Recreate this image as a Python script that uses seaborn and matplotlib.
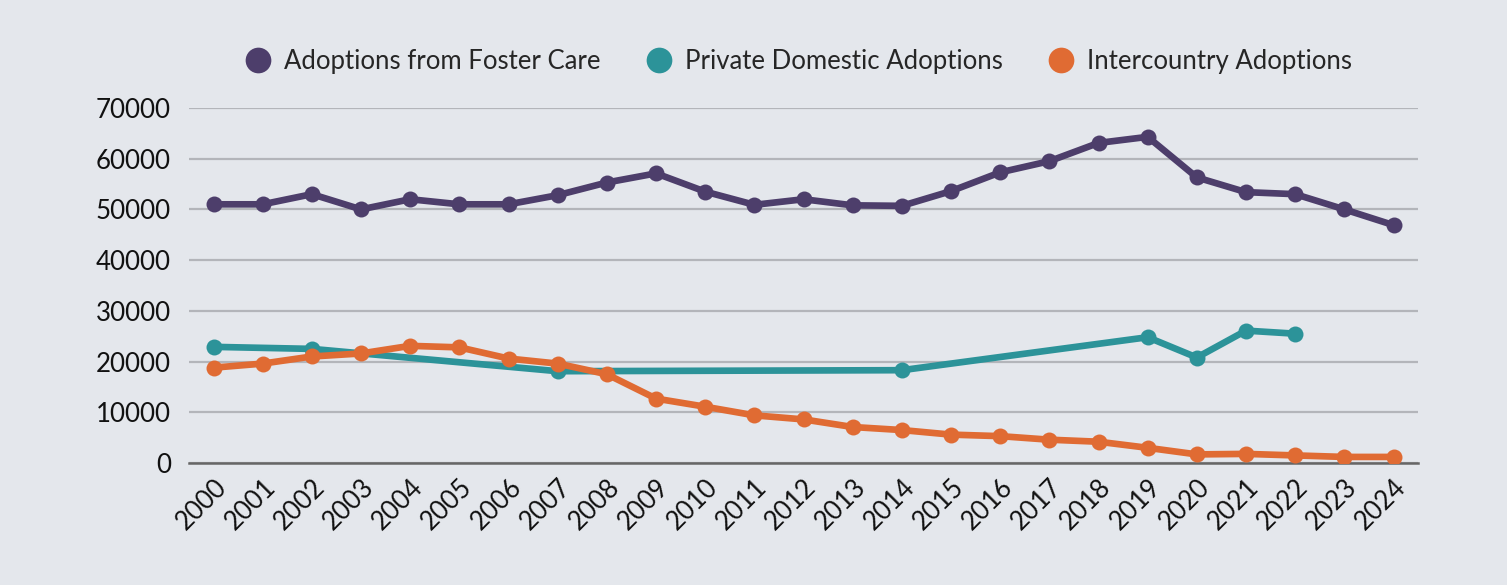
import numpy as np
import pandas as pd
import matplotlib.pyplot as plt
import seaborn as sns
from matplotlib.lines import Line2D

# Values
years = list(range(2000, 2025))
foster_care = [51000, 51000, 53000, 50000, 52000, 51000, 51000, 52800, 55300, 57100,
               53500, 50900, 52000, 50800, 50700, 53600, 57300, 59500, 63100, 64300,
               56300, 53400, 53000, 50000, 46900]
private_years = [2000, 2002, 2007, 2014, 2019, 2020, 2021, 2022]
private_domestic = [22900, 22500, 18100, 18300, 24800, 20800, 26100, 25500]
intercountry = [18800, 19600, 21000, 21600, 23100, 22800, 20600, 19600, 17500, 12700,
                11100, 9400, 8600, 7100, 6500, 5600, 5300, 4600, 4200, 3000,
                1700, 1800, 1500, 1200, 1200]

series_names = ['Adoptions from Foster Care', 'Private Domestic Adoptions', 'Intercountry Adoptions']
colors = ['#4d3e6b', '#2c9399', '#e06b33']

df = pd.concat([
    pd.DataFrame({'Year': years, 'Adoptions': foster_care, 'Type': series_names[0]}),
    pd.DataFrame({'Year': private_years, 'Adoptions': private_domestic, 'Type': series_names[1]}),
    pd.DataFrame({'Year': years, 'Adoptions': intercountry, 'Type': series_names[2]}),
])

bg = '#e4e7ec'
sns.set_style('white')
plt.rcParams['font.family'] = ['Lato', 'DejaVu Sans']

fig = plt.figure(figsize=(15.07, 5.85), dpi=100, facecolor=bg)
ax = fig.add_axes([0.1254, 0.2085, 0.8156, 0.607])
ax.set_facecolor(bg)

sns.lineplot(data=df, x='Year', y='Adoptions', hue='Type', hue_order=series_names,
             palette=colors, linewidth=4.8, marker='o', markersize=11.5,
             markeredgewidth=0, legend=False, ax=ax, zorder=3)

ax.set_xlim(1999.5, 2024.5)
ax.set_ylim(0, 70000)
ax.set_yticks(range(0, 70001, 10000))
ax.set_xticks(years)
ax.set_xticklabels([str(y) for y in years], rotation=45, ha='right', rotation_mode='anchor')
ax.tick_params(axis='both', labelsize=18.6, length=0, colors='#111111')
ax.tick_params(axis='x', pad=8)
ax.tick_params(axis='y', pad=13)
ax.set_xlabel('')
ax.set_ylabel('')

ax.yaxis.grid(True, color='#b3b5ba', linewidth=1.6)
ax.set_axisbelow(True)
for side in ['top', 'right', 'left']:
    ax.spines[side].set_visible(False)
ax.spines['bottom'].set_color('#666666')
ax.spines['bottom'].set_linewidth(1.8)

handles = [Line2D([0], [0], marker='o', linestyle='none', markersize=18.5,
                  markerfacecolor=c, markeredgewidth=0) for c in colors]
fig.legend(handles, series_names, loc='center', bbox_to_anchor=(0.529, 0.895),
           ncol=3, frameon=False, fontsize=18.5, handletextpad=0.42,
           columnspacing=1.67, handlelength=1.2)

fig.savefig('out.png', dpi=100, facecolor=bg)
